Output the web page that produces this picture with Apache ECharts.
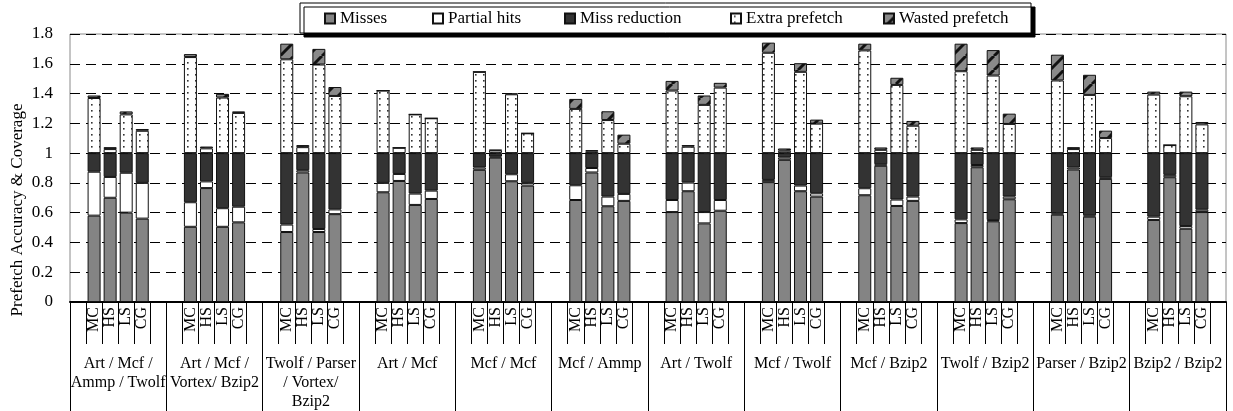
<!DOCTYPE html>
<html>
<head>
<meta charset="utf-8">
<script src="https://cdn.jsdelivr.net/npm/echarts@6/dist/echarts.min.js"></script>
<style>
html,body{margin:0;padding:0;background:#fff;}
#chart{width:1233px;height:411px;}
</style>
</head>
<body>
<div id="chart"></div>
<script>
// ---- Data ----
const groupLabels = ['Art / Mcf /\nAmmp / Twolf', 'Art / Mcf /\nVortex/ Bzip2', 'Twolf / Parser\n/ Vortex/\nBzip2', 'Art / Mcf', 'Mcf / Mcf', 'Mcf / Ammp', 'Art / Twolf', 'Mcf / Twolf', 'Mcf / Bzip2', 'Twolf / Bzip2', 'Parser / Bzip2', 'Bzip2 / Bzip2'];
const schemeLabels = ['MC', 'HS', 'LS', 'CG'];
const yTicks = [0, 0.2, 0.4, 0.6, 0.8, 1, 1.2, 1.4, 1.6, 1.8];
const seriesNames = ['Misses', 'Partial hits', 'Miss reduction', 'Extra prefetch', 'Wasted prefetch'];

// each array: 12 groups x (MC, HS, LS, CG)
const misses = [
  0.58, 0.70, 0.60, 0.56,
  0.505, 0.765, 0.505, 0.535,
  0.47, 0.87, 0.47, 0.59,
  0.737, 0.813, 0.652, 0.692,
  0.888, 0.97, 0.811, 0.782,
  0.685, 0.87, 0.643, 0.679,
  0.604, 0.744, 0.528, 0.613,
  0.805, 0.955, 0.744, 0.708,
  0.717, 0.915, 0.645, 0.679,
  0.53, 0.905, 0.542, 0.69,
  0.587, 0.89, 0.573, 0.827,
  0.551, 0.838, 0.492, 0.604
];
const partialHits = [
  0.295, 0.14, 0.268, 0.24,
  0.165, 0.045, 0.125, 0.105,
  0.05, 0.015, 0.02, 0.032,
  0.063, 0.047, 0.076, 0.056,
  0.015, 0.007, 0.047, 0.018,
  0.099, 0.03, 0.065, 0.047,
  0.081, 0.058, 0.076, 0.072,
  0.015, 0.015, 0.038, 0.022,
  0.047, 0.01, 0.043, 0.029,
  0.025, 0.015, 0.008, 0.018,
  0.008, 0.013, 0.009, 0.011,
  0.022, 0.016, 0.018, 0.016
];
const missReduction = [
  0.125, 0.16, 0.132, 0.20,
  0.33, 0.19, 0.37, 0.36,
  0.48, 0.115, 0.51, 0.378,
  0.20, 0.14, 0.272, 0.252,
  0.097, 0.023, 0.142, 0.20,
  0.216, 0.10, 0.292, 0.274,
  0.315, 0.198, 0.396, 0.315,
  0.18, 0.03, 0.218, 0.27,
  0.236, 0.075, 0.312, 0.292,
  0.445, 0.08, 0.45, 0.292,
  0.405, 0.097, 0.418, 0.162,
  0.427, 0.146, 0.49, 0.38
];
const extraPrefetch = [
  0.37, 0.027, 0.26, 0.15,
  0.645, 0.032, 0.373, 0.27,
  0.63, 0.04, 0.595, 0.384,
  0.42, 0.036, 0.26, 0.234,
  0.546, 0.018, 0.395, 0.133,
  0.297, 0.012, 0.222, 0.063,
  0.42, 0.043, 0.324, 0.44,
  0.674, 0.016, 0.546, 0.198,
  0.69, 0.022, 0.458, 0.184,
  0.55, 0.022, 0.521, 0.196,
  0.488, 0.027, 0.391, 0.101,
  0.393, 0.054, 0.382, 0.193
];
const wastedPrefetch = [
  0.017, 0.013, 0.02, 0.012,
  0.02, 0.012, 0.025, 0.01,
  0.105, 0.014, 0.105, 0.06,
  0, 0, 0, 0,
  0, 0.004, 0.006, 0,
  0.067, 0.008, 0.059, 0.061,
  0.065, 0.011, 0.063, 0.032,
  0.068, 0.015, 0.058, 0.027,
  0.045, 0.016, 0.048, 0.032,
  0.185, 0.016, 0.171, 0.069,
  0.173, 0.013, 0.135, 0.05,
  0.02, 0, 0.031, 0.016
];

// ---- slots: each group = empty, MC, HS, LS, CG, empty ----
const slotLabels = [];
groupLabels.forEach(() => { slotLabels.push(''); schemeLabels.forEach(s => slotLabels.push(s)); slotLabels.push(''); });
function toSlots(arr) {
  const out = [];
  for (let g = 0; g < groupLabels.length; g++) {
    out.push('-');
    for (let s = 0; s < schemeLabels.length; s++) out.push(arr[g * schemeLabels.length + s]);
    out.push('-');
  }
  return out;
}

// ---- patterns ----
function dotPattern() {
  const c = document.createElement('canvas'); c.width = 8; c.height = 6;
  const ctx = c.getContext('2d');
  ctx.fillStyle = '#fff'; ctx.fillRect(0, 0, 8, 6);
  ctx.fillStyle = '#333'; ctx.fillRect(3, 2, 1.6, 1.6);
  return c;
}
function hatchPattern() {
  const n = 14;
  const c = document.createElement('canvas'); c.width = n; c.height = n;
  const ctx = c.getContext('2d');
  ctx.fillStyle = '#8a8a8a'; ctx.fillRect(0, 0, n, n);
  ctx.strokeStyle = '#111'; ctx.lineWidth = 3;
  [-n, 0, n].forEach(x0 => { ctx.beginPath(); ctx.moveTo(x0, n); ctx.lineTo(x0 + n, 0); ctx.stroke(); });
  return c;
}

const FONT = 'Liberation Serif';
const fills = ['#848484', '#ffffff', '#333333', { image: dotPattern(), repeat: 'repeat' }, { image: hatchPattern(), repeat: 'repeat' }];
const valueArrays = [misses, partialHits, missReduction, extraPrefetch, wastedPrefetch];

const series = seriesNames.map((name, i) => ({
  name: name,
  type: 'bar',
  stack: 'total',
  barWidth: 13,
  xAxisIndex: 0,
  itemStyle: { color: fills[i], borderColor: '#111', borderWidth: 1 },
  emphasis: { disabled: true },
  data: toSlots(valueArrays[i])
}));

const legendLefts = [324, 432, 564, 730, 883];
const legends = seriesNames.map((name, i) => ({
  data: [{ name: name, icon: 'rect' }],
  left: legendLefts[i],
  top: 10,
  padding: 0,
  itemWidth: 10,
  itemHeight: 10,
  itemGap: 5,
  selectedMode: false,
  z: 10,
  textStyle: { fontFamily: FONT, fontSize: 17, color: '#000' }
}));

const chart = echarts.init(document.getElementById('chart'));
chart.setOption({
  animation: false,
  backgroundColor: '#fff',
  legend: legends,
  graphic: [
    { type: 'rect', z: 5, shape: { x: 300, y: 3, width: 731, height: 30 },
      style: { fill: '#fff', stroke: '#000', lineWidth: 1, shadowColor: '#000', shadowOffsetX: 4, shadowOffsetY: 4, shadowBlur: 0 } },
    { type: 'text', z: 5, x: 18, y: 210, rotation: Math.PI / 2,
      style: { text: 'Prefetch Accuracy & Coverage', fontFamily: FONT, fontSize: 17, fill: '#000', textAlign: 'center', textVerticalAlign: 'middle' } }
  ],
  grid: { left: 70, right: 7, top: 34, bottom: 109, show: true, borderColor: '#8a8a8a', borderWidth: 1, containLabel: false, outerBoundsMode: 'none' },
  yAxis: {
    type: 'value', min: yTicks[0], max: yTicks[yTicks.length - 1], interval: 0.2,
    axisLine: { show: false }, axisTick: { show: false },
    axisLabel: { fontFamily: FONT, fontSize: 17, color: '#000', margin: 17 },
    splitLine: { show: true, lineStyle: { color: '#000', width: 1, type: [10, 6] } }
  },
  xAxis: [
    {
      type: 'category', data: slotLabels, position: 'bottom',
      axisLine: { show: true, lineStyle: { color: '#000', width: 2 } },
      axisTick: { show: true, interval: 0, length: 7, lineStyle: { color: '#000', width: 1 } },
      axisLabel: { interval: 0, rotate: 90, fontFamily: FONT, fontSize: 16, color: '#000', margin: 5 }
    },
    {
      type: 'category', data: slotLabels, position: 'bottom',
      axisLine: { show: false },
      axisTick: { show: true, length: 42, lineStyle: { color: '#000', width: 1 },
        interval: function (idx) { const r = idx % 6; return r >= 1 && r <= 5; } },
      axisLabel: { show: false }
    },
    {
      type: 'category', data: groupLabels, position: 'bottom',
      axisLine: { show: false },
      axisTick: { show: true, interval: 0, length: 110, lineStyle: { color: '#000', width: 1 } },
      axisLabel: { interval: 0, fontFamily: FONT, fontSize: 16, lineHeight: 19, color: '#000', margin: 52 }
    }
  ],
  series: series
});
</script>
</body>
</html>
